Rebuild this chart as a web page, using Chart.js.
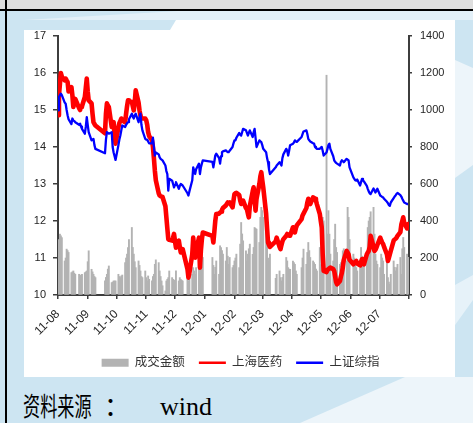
<!DOCTYPE html>
<html>
<head>
<meta charset="utf-8">
<script src="https://cdn.jsdelivr.net/npm/chart.js@4/dist/chart.umd.min.js"></script>
<style>
  html, body { margin: 0; padding: 0; }
  body { width: 473px; height: 423px; position: relative; overflow: hidden; background: #cde5f2; }
  #bg { position: absolute; left: 0; top: 0; }
  #wrap { position: absolute; left: 0; top: 0; width: 473px; height: 383px; }
  .src { position: absolute; color: #000; white-space: nowrap; }
  #srcCn { left: 23px; top: 391.6px; font: 26px/26px 'Noto Sans CJK SC', sans-serif; transform: scaleX(0.66); transform-origin: 0 0; }
  #srcColon { left: 104px; top: 391.6px; font: 26px/26px 'Noto Sans CJK SC', sans-serif; }
  #srcEn { left: 160px; top: 394px; font: 26px/26px 'Liberation Serif', serif; }
</style>
</head>
<body>
<svg id="bg" width="473" height="423" xmlns="http://www.w3.org/2000/svg">
  <rect width="473" height="423" fill="#cde5f2"/>
  <path d="M178 11 L473 11 L473 20 L24 20 Z" fill="#e3f0f8"/>
  <rect x="24" y="20" width="431" height="357" fill="#ffffff"/>
  <path d="M24 20 L176 20 L170 30 L24 30 Z" fill="#cde5f2"/>
  <path d="M455 60 L473 68 L473 165 L455 178 Z" fill="#edf5fa"/>
  <path d="M455 285 L473 275 L473 300 L455 325 Z" fill="#e6f2f9"/>
  <path d="M405 377 L473 377 L473 423 L300 423 Z" fill="#edf5fa"/>
  <rect x="0" y="0" width="473" height="9" fill="#dedede"/>
  <rect x="0" y="9" width="473" height="2" fill="#000"/>
  <rect x="5" y="0" width="2" height="423" fill="#000"/>
</svg>
<div id="wrap"><canvas id="c" width="473" height="383"></canvas></div>
<div class="src" id="srcCn">资料来源</div>
<div class="src" id="srcColon">：</div>
<div class="src" id="srcEn">wind</div>
<script>
// Trading weeks (Monday of each week); values below are Mon..Fri, null = market closed
const weeks = [
  '2011-08-22','2011-08-29','2011-09-05','2011-09-12','2011-09-19','2011-09-26','2011-10-03',
  '2011-10-10','2011-10-17','2011-10-24','2011-10-31','2011-11-07','2011-11-14','2011-11-21',
  '2011-11-28','2011-12-05','2011-12-12','2011-12-19','2011-12-26','2012-01-02','2012-01-09',
  '2012-01-16','2012-01-23','2012-01-30','2012-02-06','2012-02-13','2012-02-20','2012-02-27',
  '2012-03-05','2012-03-12','2012-03-19','2012-03-26','2012-04-02','2012-04-09','2012-04-16',
  '2012-04-23','2012-04-30','2012-05-07','2012-05-14','2012-05-21','2012-05-28','2012-06-04',
  '2012-06-11','2012-06-18','2012-06-25','2012-07-02','2012-07-09','2012-07-16','2012-07-23',
  '2012-07-30','2012-08-06','2012-08-13','2012-08-20'
];

// 上海医药 (left axis)
const pharma = [
  [14.86,15.4,15.7,16.0,15.9],[15.8,15.85,15.8,15.76,15.5],[15.62,15.4,15.08,15.2,15.3],
  [null,15.05,15.0,15.08,15.1],[15.35,15.6,15.85,15.5,15.26],[15.18,14.9,14.67,14.62,14.58],
  [null,null,null,null,null],
  [14.37,14.9,15.18,15.12,15.08],[14.54,14.6,14.67,14.3,14.09],[14.54,14.65,14.7,14.77,14.72],
  [14.67,14.9,15.1,15.26,15.24],[15.22,15.1,14.99,15.2,15.53],[15.2,14.99,14.85,14.77,14.77],
  [14.77,14.72,14.6,14.4,14.3],[14.18,14.0,13.7,13.36,13.1],[12.75,12.69,12.67,12.66,12.65],
  [12.4,12.1,11.8,11.51,11.49],[11.47,11.55,11.65,11.45,11.28],[11.47,11.3,11.15,11.2,11.24],
  [null,null,10.7,10.47,10.6],[11.1,11.55,11.3,11.01,11.2],[11.55,10.74,11.2,11.5,11.69],
  [null,null,null,null,null],
  [11.6,11.42,11.7,12.0,12.19],[12.2,12.23,12.25,12.3,12.35],[12.42,12.46,12.5,12.48,12.5],
  [12.37,12.55,12.73,12.75,12.76],[12.7,12.55,12.46,12.5,12.55],[12.35,12.32,12.2,12.1,12.4],
  [12.8,12.91,12.6,12.28,12.6],[13.0,13.2,13.32,13.1,12.91],[12.2,11.8,11.42,11.35,11.3],
  [null,null,null,11.45,11.55],[11.3,11.24,11.35,11.45,11.51],[11.6,11.65,11.62,11.6,11.6],
  [11.83,11.75,11.69,11.8,11.88],[null,null,12.05,12.15,12.2],[12.35,12.5,12.6,12.5,12.46],
  [12.64,12.62,12.6,12.55,12.45],[12.19,12.0,11.83,11.1,10.65],[10.62,10.68,10.7,10.72,10.74],
  [10.7,10.65,10.5,10.35,10.29],[10.38,10.5,10.6,10.75,10.95],[11.19,11.15,11.1,10.95,null],
  [10.83,10.86,10.9,10.92,10.85],[10.8,10.9,10.97,10.9,10.83],[11.1,11.15,11.19,11.3,11.6],
  [11.3,11.19,11.22,11.28,11.35],[11.55,11.48,11.42,11.38,11.3],[11.1,10.92,11.0,11.1,11.19],
  [11.47,11.5,11.52,11.55,11.6],[11.7,11.9,12.0,12.1,11.95],[11.8,11.92]
];

// 上证综指 (left axis)
const composite = [
  [14.99,15.35,15.4,15.44,15.4],[15.2,15.17,15.0,14.86,14.75],[14.62,14.77,14.72,14.7,14.67],
  [null,14.6,14.63,14.55,14.49],[14.36,14.55,14.81,14.6,14.4],[14.18,14.2,14.22,14.05,13.95],
  [null,null,null,null,null],
  [13.83,14.2,14.4,14.38,14.36],[14.4,14.0,13.85,13.75,13.65],[14.05,14.2,14.31,14.45,14.58],
  [14.54,14.6,14.64,14.67,14.75],[14.9,14.82,14.77,14.85,14.9],[14.67,14.8,14.9,14.6,14.45],
  [14.22,14.2,14.2,14.15,14.1],[14.1,14.25,14.0,13.77,13.85],[13.8,13.72,13.68,13.66,13.64],
  [13.5,13.35,13.27,12.82,13.14],[13.09,13.0,12.91,12.98,13.05],[12.87,12.95,13.0,12.98,12.96],
  [null,null,12.75,12.69,12.8],[13.1,13.45,13.35,13.27,13.4],[13.55,13.27,13.45,13.55,13.64],
  [null,null,null,null,null],
  [13.6,13.45,13.6,13.77,13.82],[13.7,13.55,13.75,13.86,13.88],[13.91,13.88,13.86,13.86,13.9],
  [14.0,14.1,14.18,14.18,14.25],[14.38,14.33,14.31,14.4,14.49],[14.45,14.38,14.31,14.38,14.45],
  [14.27,14.4,14.49,14.25,14.0],[14.18,14.15,14.13,14.05,13.95],[13.86,13.7,13.59,13.4,13.27],
  [null,null,null,13.45,13.5],[13.59,13.55,13.5,13.7,13.8],[13.95,13.9,13.77,13.9,14.05],
  [14.09,14.12,14.18,14.15,14.14],[null,null,14.27,14.35,14.42],[14.45,14.35,14.22,14.18,14.15],
  [14.1,14.09,14.0,13.97,13.95],[13.95,13.98,14.0,13.9,13.77],[13.85,13.95,14.05,14.09,13.95],
  [13.75,13.64,13.6,13.57,13.55],[13.5,13.6,13.64,13.62,13.59],[13.68,13.66,13.64,13.45,null],
  [13.18,13.14,13.1,13.09,13.12],[12.96,13.05,13.14,13.1,13.07],[12.95,12.87,12.8,12.75,12.73],
  [12.88,12.83,12.77,12.82,12.87],[12.69,12.67,12.65,12.64,12.6],[12.52,12.48,12.43,12.41,12.5],
  [12.62,12.66,12.69,12.73,12.76],[12.7,12.66,12.6,12.55,12.5],[12.46,12.46]
];

// 成交金额 (right axis)
const turnover = [
  [202,300,329,320,310],[184,200,248,240,230],[121,125,130,118,112],
  [null,112,103,108,112],[121,125,130,180,239],[139,125,112,100,94],
  [null,null,null,null,null],
  [76,95,112,140,157],[67,70,76,76,76],[112,100,94,103,108],
  [175,200,221,257,300],[365,257,221,180,148],[184,160,130,100,94],
  [130,94,76,103,85],[76,100,112,166,190],[175,130,100,76,50],
  [22,76,85,94,130],[94,85,80,76,130],[76,94,85,80,76],
  [null,null,94,76,94],[112,148,130,112,148],[184,203,212,212,203],
  [null,null,null,null,null],
  [203,160,112,150,184],[112,266,257,240,221],[184,257,210,166,203],
  [148,160,184,200,221],[148,275,392,330,293],[239,184,221,250,275],
  [220,257,365,360,356],[284,420,474,456,420],[401,293,184,200,221],
  [null,null,null,90,112],[130,94,76,95,112],[203,184,148,140,139],
  [184,175,166,130,112],[null,null,148,200,248],[166,230,284,240,203],
  [184,175,166,140,130],[257,166,300,420,401],[1188,329,456,329,221],
  [184,300,383,257,230],[166,175,184,239,250],[184,474,420,300,null],
  [221,200,184,148,130],[148,257,210,184,160],[184,365,400,420,450],
  [474,329,221,184,166],[148,221,200,184,112],[184,94,70,58,112],
  [184,150,130,148,166],[203,112,250,311,257],[221,203]
];

// Month labels on the date axis (one per monthly tick, from the 22nd)
const monthLabels = ['11-08','11-09','11-10','11-11','11-12','12-01','12-02','12-03','12-04','12-05','12-06','12-07'];

const DAY = 86400000;
const t0 = Date.UTC(2011, 7, 22);
const t1 = Date.UTC(2012, 7, 22);
const axisMax = (t1 - t0) / DAY;

function toPoints(weekly) {
  const pts = [];
  weeks.forEach((w, i) => {
    const base = (Date.parse(w + 'T00:00:00Z') - t0) / DAY;
    (weekly[i] || []).forEach((v, j) => {
      if (v !== null && v !== undefined) pts.push({ x: base + j, y: v });
    });
  });
  return pts;
}

const monthTicks = [];
for (let n = 0; n <= monthLabels.length; n++) {
  monthTicks.push((Date.UTC(2011, 7 + n, 22) - t0) / DAY);
}

const FONT = "'Liberation Sans', 'Noto Sans CJK SC', sans-serif";
const AXIS = '#3d3d3d';
const TEXT = '#262626';

new Chart(document.getElementById('c'), {
  type: 'bar',
  data: {
    datasets: [
      {
        type: 'bar', label: '成交金额', data: toPoints(turnover), yAxisID: 'y1',
        backgroundColor: '#b3b3b3', borderWidth: 0, barThickness: 1.25,
        order: 3, pointStyle: 'rect'
      },
      {
        type: 'line', label: '上海医药', data: toPoints(pharma), yAxisID: 'y',
        borderColor: '#ff0000', backgroundColor: '#ff0000', borderWidth: 4.6,
        pointRadius: 0, tension: 0, borderJoinStyle: 'round', borderCapStyle: 'round',
        order: 2, pointStyle: 'line'
      },
      {
        type: 'line', label: '上证综指', data: toPoints(composite), yAxisID: 'y',
        borderColor: '#0000ff', backgroundColor: '#0000ff', borderWidth: 2.3,
        pointRadius: 0, tension: 0, borderJoinStyle: 'round',
        order: 1, pointStyle: 'line'
      }
    ]
  },
  options: {
    responsive: false,
    animation: false,
    events: [],
    layout: { padding: { top: 36, left: 8, right: 0, bottom: 4 } },
    plugins: {
      tooltip: { enabled: false },
      legend: {
        position: 'bottom',
        labels: {
          usePointStyle: true,
          pointStyleWidth: 27,
          boxHeight: 8,
          padding: 14,
          color: '#333333',
          font: { family: FONT, size: 12.5 },
          sort: (a, b) => a.datasetIndex - b.datasetIndex,
          generateLabels: (chart) => {
            const items = Chart.defaults.plugins.legend.labels.generateLabels(chart);
            items.forEach(it => { it.lineWidth = it.datasetIndex === 0 ? 0 : 2.6; });
            return items;
          }
        }
      }
    },
    scales: {
      x: {
        type: 'linear',
        min: 0,
        max: axisMax,
        offset: false,
        afterBuildTicks: (s) => { s.ticks = monthTicks.map(v => ({ value: v })); },
        afterFit: (s) => { s.height = 47.5; },
        ticks: {
          autoSkip: false,
          minRotation: 45,
          maxRotation: 45,
          padding: 8,
          color: TEXT,
          font: { family: FONT, size: 12 },
          callback: (v, i) => monthLabels[i] || ''
        },
        grid: { display: true, drawOnChartArea: false, drawTicks: true, tickLength: 4, color: AXIS, lineWidth: 1.5, offset: false },
        border: { display: true, color: AXIS, width: 2 }
      },
      y: {
        position: 'left',
        min: 10,
        max: 17,
        afterFit: (s) => { s.width = 50; },
        ticks: { stepSize: 1, padding: 7, color: TEXT, font: { family: FONT, size: 11 }, callback: (v) => String(v) },
        grid: { display: true, drawOnChartArea: false, drawTicks: true, tickLength: 5, color: AXIS, lineWidth: 1.5 },
        border: { display: true, color: AXIS, width: 2 }
      },
      y1: {
        position: 'right',
        min: 0,
        max: 1400,
        afterFit: (s) => { s.width = 64; },
        ticks: { stepSize: 200, padding: 8, color: TEXT, font: { family: FONT, size: 11 }, callback: (v) => String(v) },
        grid: { display: true, drawOnChartArea: false, drawTicks: true, tickLength: 3, color: AXIS, lineWidth: 1.5 },
        border: { display: true, color: AXIS, width: 2 }
      }
    }
  }
});
</script>
</body>
</html>
